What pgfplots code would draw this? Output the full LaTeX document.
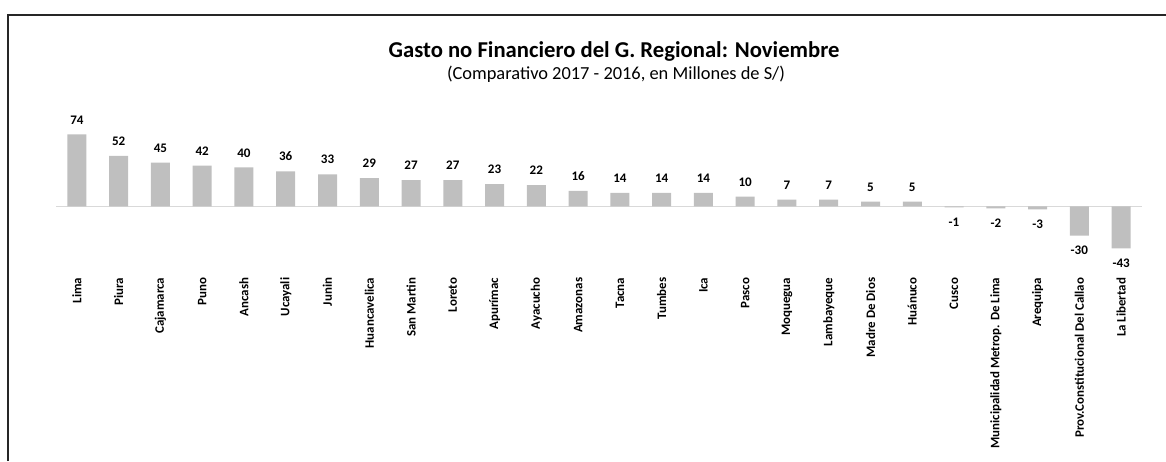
\documentclass[border=0pt]{standalone}
\usepackage{fontspec}
\setmainfont{Carlito}
\usepackage{pgfplots}
\pgfplotsset{compat=1.18}
\definecolor{bargray}{HTML}{BFBFBF}
\definecolor{zerogray}{HTML}{D9D9D9}
\begin{document}
\begin{tikzpicture}[x=0.75pt,y=0.75pt]
\useasboundingbox (0,0) rectangle (1166,461);
\draw[line width=0.9pt, black!85] (8,0) -- (8,446) -- (1166,446);
\node[anchor=base, font=\bfseries\fontsize{17}{20}\selectfont, inner sep=0pt] at (614,403) {Gasto no Financiero del G. Regional: Noviembre};
\node[anchor=base, font=\fontsize{13.8}{16}\selectfont, inner sep=0pt] at (616,381) {(Comparativo 2017 - 2016, en Millones de S/)};
\begin{axis}[
  at={(42pt,141.9pt)}, anchor=south west,
  scale only axis, width=814.5pt, height=107.5pt,
  xmin=-0.5, xmax=25.5, ymin=-67, ymax=80,
  clip=false,
  ybar, bar width=14.25pt,
  axis line style={draw=none},
  tick style={draw=none},
  ytick=\empty,
  extra y ticks={0}, extra y tick labels={},
  extra y tick style={grid=major, major grid style={zerogray, line width=0.75pt}},
  xtick=data,
  xticklabels={Lima, Piura, Cajamarca, Puno, Ancash, Ucayali, Junin, Huancavelica, San Martin, Loreto, Apurímac, Ayacucho, Amazonas, Tacna, Tumbes, Ica, Pasco, Moquegua, Lambayeque, Madre De Dios, Huánuco, Cusco, Municipalidad Metrop. De Lima, Arequipa, Prov.Constitucional Del Callao, La Libertad},
  xticklabel style={rotate=90, anchor=east, inner sep=0pt, font=\bfseries\fontsize{9.7}{11}\selectfont},
  /pgf/number format/assume math mode=true,
  nodes near coords,
  nodes near coords align={vertical},
  every node near coord/.append style={font=\bfseries\fontsize{9.8}{11}\selectfont, inner ysep=7.5pt, inner xsep=1pt, black},
]
\addplot[fill=bargray, draw=none] coordinates {
(0,74) (1,52) (2,45) (3,42) (4,40) (5,36) (6,33) (7,29) (8,27) (9,27)
(10,23) (11,22) (12,16) (13,14) (14,14) (15,14) (16,10) (17,7) (18,7) (19,5)
(20,5) (21,-1) (22,-2) (23,-3) (24,-30) (25,-43)};
\end{axis}
\end{tikzpicture}
\end{document}
